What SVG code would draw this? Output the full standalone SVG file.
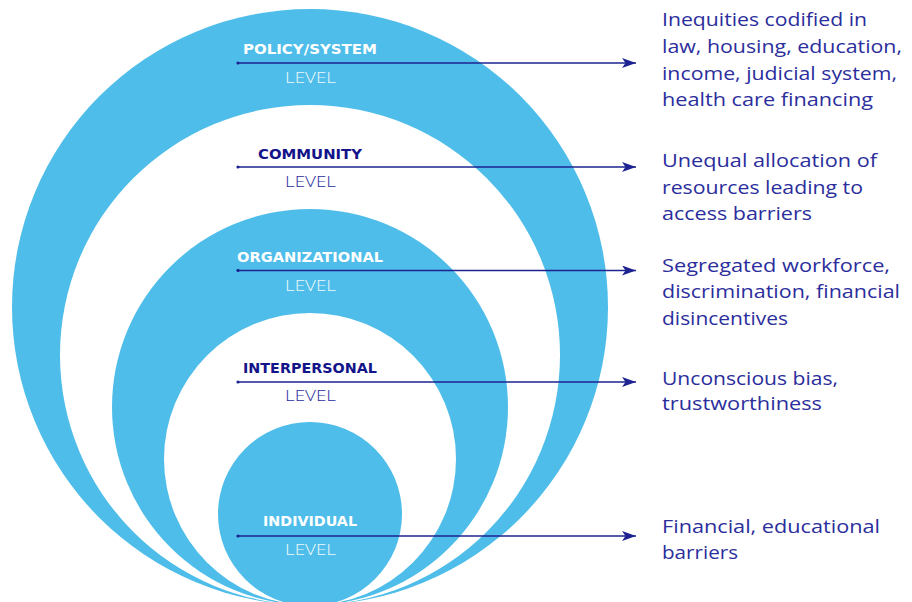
<svg xmlns="http://www.w3.org/2000/svg" width="912" height="602" viewBox="0 0 912 602">
  <defs>
    <marker id="arrow" viewBox="0 0 14 10" refX="14" refY="5" markerWidth="14" markerHeight="10" markerUnits="userSpaceOnUse" orient="auto">
      <path d="M0,0 L14,5 L0,10 L3.5,5 Z" fill="#1d2390"/>
    </marker>
    <marker id="dot" viewBox="0 0 4 4" refX="2" refY="2" markerWidth="4" markerHeight="4" markerUnits="userSpaceOnUse">
      <circle cx="2" cy="2" r="1.6" fill="#1d2390"/>
    </marker>
  </defs>
  <style>
    .ring { fill: #4ebde9; }
    .gap { fill: #ffffff; }
    .title { font-family: "DejaVu Sans", "Liberation Sans", sans-serif; font-weight: 700; font-size: 14.5px; }
    .level { font-family: "Open Sans", "Liberation Sans", sans-serif; font-weight: 300; font-size: 15px; }
    .on-blue { fill: #ffffff; }
    .on-white { fill: #13148a; }
    .level.on-blue { fill: #eef8fd; }
    .level.on-white { fill: #2a2d9e; }
    .desc { font-family: "Open Sans", "Liberation Sans", sans-serif; font-weight: 400; font-size: 19px; fill: #2b2e9c; }
    .link { stroke: #1d2390; stroke-width: 1.3; fill: none; marker-start: url(#dot); marker-end: url(#arrow); }
  </style>

  <!-- nested levels, all tangent at the bottom -->
  <g id="policy-system-level">
    <circle class="ring" cx="310" cy="307" r="298"/>
    <text class="title on-blue" x="243" y="54" textLength="134" lengthAdjust="spacingAndGlyphs">POLICY/SYSTEM</text>
    <text class="level on-blue" x="285" y="83" textLength="51" lengthAdjust="spacingAndGlyphs">LEVEL</text>
  </g>
  <g id="community-level">
    <circle class="gap" cx="310" cy="355" r="250"/>
    <text class="title on-white" x="258" y="159" textLength="104" lengthAdjust="spacingAndGlyphs">COMMUNITY</text>
    <text class="level on-white" x="285" y="187" textLength="51" lengthAdjust="spacingAndGlyphs">LEVEL</text>
  </g>
  <g id="organizational-level">
    <circle class="ring" cx="310" cy="407" r="198"/>
    <text class="title on-blue" x="237" y="262" textLength="146" lengthAdjust="spacingAndGlyphs">ORGANIZATIONAL</text>
    <text class="level on-blue" x="285" y="291" textLength="51" lengthAdjust="spacingAndGlyphs">LEVEL</text>
  </g>
  <g id="interpersonal-level">
    <circle class="gap" cx="310" cy="459" r="146"/>
    <text class="title on-white" x="243" y="373" textLength="134" lengthAdjust="spacingAndGlyphs">INTERPERSONAL</text>
    <text class="level on-white" x="285" y="401" textLength="51" lengthAdjust="spacingAndGlyphs">LEVEL</text>
  </g>
  <g id="individual-level">
    <circle class="ring" cx="310" cy="514" r="92"/>
    <text class="title on-blue" x="263" y="526" textLength="94" lengthAdjust="spacingAndGlyphs">INDIVIDUAL</text>
    <text class="level on-blue" x="285" y="555" textLength="51" lengthAdjust="spacingAndGlyphs">LEVEL</text>
  </g>

  <!-- connectors from each level to its description -->
  <g id="connectors">
    <line class="link" x1="238" y1="63" x2="636" y2="63"/>
    <line class="link" x1="238" y1="167" x2="636" y2="167"/>
    <line class="link" x1="238" y1="270.5" x2="636" y2="270.5"/>
    <line class="link" x1="238" y1="382" x2="636" y2="382"/>
    <line class="link" x1="238" y1="536" x2="636" y2="536"/>
  </g>

  <!-- descriptions -->
  <g id="policy-system-desc">
    <text class="desc" x="662" y="26" textLength="205" lengthAdjust="spacingAndGlyphs">Inequities codified in</text>
    <text class="desc" x="662" y="53" textLength="240" lengthAdjust="spacingAndGlyphs">law, housing, education,</text>
    <text class="desc" x="662" y="80" textLength="235" lengthAdjust="spacingAndGlyphs">income, judicial system,</text>
    <text class="desc" x="662" y="106" textLength="211" lengthAdjust="spacingAndGlyphs">health care financing</text>
  </g>
  <g id="community-desc">
    <text class="desc" x="662" y="167" textLength="215" lengthAdjust="spacingAndGlyphs">Unequal allocation of</text>
    <text class="desc" x="662" y="194" textLength="201" lengthAdjust="spacingAndGlyphs">resources leading to</text>
    <text class="desc" x="662" y="220" textLength="150" lengthAdjust="spacingAndGlyphs">access barriers</text>
  </g>
  <g id="organizational-desc">
    <text class="desc" x="662" y="272" textLength="228" lengthAdjust="spacingAndGlyphs">Segregated workforce,</text>
    <text class="desc" x="662" y="298" textLength="238" lengthAdjust="spacingAndGlyphs">discrimination, financial</text>
    <text class="desc" x="662" y="325" textLength="126" lengthAdjust="spacingAndGlyphs">disincentives</text>
  </g>
  <g id="interpersonal-desc">
    <text class="desc" x="662" y="385" textLength="176" lengthAdjust="spacingAndGlyphs">Unconscious bias,</text>
    <text class="desc" x="662" y="410" textLength="160" lengthAdjust="spacingAndGlyphs">trustworthiness</text>
  </g>
  <g id="individual-desc">
    <text class="desc" x="662" y="533" textLength="218" lengthAdjust="spacingAndGlyphs">Financial, educational</text>
    <text class="desc" x="662" y="559" textLength="76" lengthAdjust="spacingAndGlyphs">barriers</text>
  </g>
</svg>
